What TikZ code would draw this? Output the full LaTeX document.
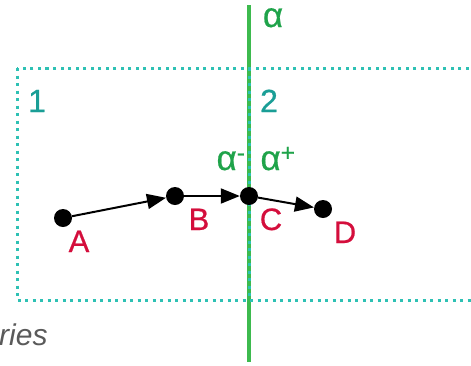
\documentclass[tikz,border=0pt]{standalone}
\usepackage{fontspec}
\setmainfont{Liberation Sans}
\newfontfamily\lblfont{Liberation Sans}[FakeBold=0.6]
\usetikzlibrary{arrows.meta}
\definecolor{BoundColor}{HTML}{3DBA4E}
\definecolor{AlphaColor}{HTML}{1FA34A}
\definecolor{RegionColor}{HTML}{1A9E96}
\definecolor{BoxColor}{HTML}{2EC1B4}
\definecolor{PointColor}{HTML}{D40E3C}
\definecolor{NoteColor}{HTML}{5A5A5A}
\tikzset{
  pt/.style={circle, fill=black, inner sep=0pt, minimum size=18pt},
  ptlabel/.style={anchor=base, text=PointColor, font=\fontsize{31}{31}\lblfont},
  regionlabel/.style={anchor=base, text=RegionColor, font=\fontsize{32}{32}\lblfont},
  alphalabel/.style={anchor=base, text=AlphaColor, font=\fontsize{35}{35}\lblfont},
  move/.style={line width=2pt, -{Triangle[length=19pt,width=15pt]}},
  regionbox/.style={BoxColor, line width=3pt, dash pattern=on 3pt off 4.5pt}
}
\begin{document}
\begin{tikzpicture}[x=1pt, y=-1pt]
  \useasboundingbox (0,0) rectangle (471,365);
  % boundary alpha
  \draw[BoundColor, line width=4.5pt] (249,5) -- (249,362);
  \node[alphalabel] (alpha) at (273,27) {α};
  % regions
  \draw[regionbox] (17,68) rectangle (472,300);
  \draw[regionbox] (249,68) -- (249,300);
  \node[regionlabel] (r1) at (37,112) {1};
  \node[regionlabel] (r2) at (269,112) {2};
  \node[alphalabel] (aminus) at (231,170) {α\textsuperscript{-}};
  \node[alphalabel] (aplus) at (278,170) {α\textsuperscript{+}};
  % points
  \node[pt] (A) at (63,218) {};
  \node[pt] (B) at (175,196) {};
  \node[pt] (C) at (249,196) {};
  \node[pt] (D) at (323,209) {};
  \draw[move] (A) -- (B);
  \draw[move] (B) -- (C);
  \draw[move] (C) -- (D);
  \node[ptlabel] (lA) at (79,252) {A};
  \node[ptlabel] (lB) at (199,230) {B};
  \node[ptlabel] (lC) at (271,230) {C};
  \node[ptlabel] (lD) at (345,243) {D};
  \node[anchor=base west, inner sep=0pt, text=NoteColor, font=\fontsize{30}{30}\selectfont\itshape] (note) at (-1,345) {ries};
\end{tikzpicture}
\end{document}
